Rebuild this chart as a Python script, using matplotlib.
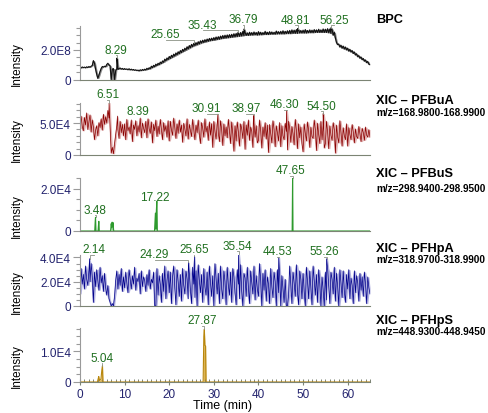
import numpy as np
import pandas as pd
import matplotlib
matplotlib.use("Agg")
import matplotlib.pyplot as plt
from matplotlib.ticker import MultipleLocator, FixedLocator, FixedFormatter

plt.rcParams["font.family"] = ["Liberation Sans", "DejaVu Sans"]

STEP = 0.25  # min between samples of the dense traces

# BPC, intensity in 1e6, one row = 5 min
bpc = [
    82, 78, 85, 80, 84, 79, 86, 81, 88, 83, 90, 95, 128, 110, 70, 35, 8, 30, 55, 75,
    88, 84, 90, 86, 102, 110, 98, 92, 0, 70, 74, 0, 60, 72, 68, 74, 78, 70, 75, 68,
    74, 68, 72, 66, 73, 65, 70, 64, 68, 62, 66, 60, 64, 58, 66, 60, 68, 62, 70, 64,
    76, 68, 80, 72, 90, 80, 96, 86, 104, 94, 110, 100, 118, 108, 126, 116, 138, 126, 146, 134,
    156, 142, 164, 150, 172, 158, 180, 166, 188, 174, 196, 182, 204, 190, 212, 198, 222, 206, 230, 214,
    238, 222, 244, 228, 250, 234, 256, 240, 262, 246, 266, 250, 270, 254, 274, 258, 278, 262, 280, 264,
    284, 266, 288, 270, 290, 272, 294, 276, 298, 278, 300, 280, 302, 282, 304, 284, 306, 286, 310, 288,
    312, 290, 314, 292, 318, 294, 326, 296, 318, 298, 316, 298, 320, 300, 318, 300, 322, 302, 318, 300,
    324, 302, 320, 302, 318, 304, 326, 304, 320, 304, 324, 306, 322, 306, 320, 306, 328, 308, 324, 308,
    326, 308, 330, 308, 326, 310, 330, 310, 332, 310, 336, 312, 334, 312, 338, 312, 336, 314, 332, 314,
    334, 314, 338, 314, 332, 316, 336, 316, 334, 316, 338, 318, 336, 318, 340, 318, 336, 318, 342, 318,
    340, 318, 344, 316, 342, 312, 338, 300, 320, 280, 250, 236, 240, 220, 232, 212, 226, 206, 220, 200,
    212, 192, 204, 186, 196, 176, 186, 166, 174, 154, 162, 144, 152, 134, 142, 124, 132, 114, 122, 104,
    100,
]

# XIC PFBuA, intensity in 1e3
pfbua = [
    42, 61, 45, 38, 59, 47, 66, 40, 52, 63, 36, 55, 44, 24, 39, 46, 30, 51, 43, 57,
    39, 64, 48, 60, 50, 70, 58, 45, 3, 12, 2, 18, 32, 46, 40, 26, 53, 35, 48, 30,
    49, 24, 56, 38, 44, 33, 55, 21, 47, 40, 54, 30, 46, 36, 58, 27, 50, 42, 35, 53,
    27, 57, 41, 34, 52, 19, 48, 38, 55, 29, 45, 33, 56, 40, 24, 51, 37, 46, 28, 54,
    22, 53, 39, 31, 58, 43, 26, 49, 34, 55, 36, 47, 20, 50, 41, 30, 57, 25, 48, 38,
    29, 56, 40, 24, 47, 35, 55, 32, 18, 51, 42, 28, 57, 36, 45, 23, 52, 31, 49, 12,
    53, 37, 25, 48, 34, 21, 54, 40, 15, 49, 30, 44, 27, 56, 38, 18, 52, 33, 6, 46,
    22, 52, 36, 14, 49, 41, 26, 53, 9, 47, 31, 55, 23, 44, 37, 12, 50, 28, 46, 19,
    23, 55, 38, 11, 44, 29, 51, 25, 47, 4, 48, 33, 19, 54, 40, 13, 46, 35, 22, 51,
    13, 46, 30, 24, 50, 37, 8, 53, 42, 20, 45, 33, 16, 56, 39, 10, 49, 27, 44, 18,
    5, 49, 34, 22, 52, 38, 12, 44, 29, 26, 55, 40, 7, 50, 32, 18, 53, 24, 46, 11,
    18, 53, 36, 10, 46, 31, 23, 51, 40, 3, 47, 28, 19, 54, 35, 14, 43, 30, 24, 49,
    14, 43, 32, 24, 48, 36, 19, 41, 29, 26, 45, 33, 21, 42, 35, 23, 44, 31, 28, 40,
    28,
]

# XIC PFHpA, intensity in 1e3
pfhpa = [
    10, 31, 18, 26, 14, 33, 22, 17, 29, 20, 35, 24, 3, 28, 16, 30, 21, 13, 32, 19,
    25, 12, 27, 15, 9, 17, 6, 3, 0, 2, 0, 8, 21, 29, 14, 26, 17, 31, 12, 24,
    15, 28, 19, 11, 30, 22, 14, 25, 18, 32, 13, 23, 20, 27, 10, 29, 16, 24, 21, 12,
    26, 17, 30, 14, 22, 19, 28, 0, 0, 31, 9, 25, 18, 3, 27, 12, 33, 6, 21, 29,
    11, 28, 2, 24, 33, 15, 1, 30, 20, 8, 26, 4, 31, 17, 10, 29, 22, 6, 27, 13,
    2, 32, 18, 7, 29, 0, 34, 21, 11, 26, 3, 31, 16, 9, 28, 1, 33, 19, 8, 25,
    0, 35, 22, 10, 27, 2, 33, 14, 6, 29, 20, 1, 32, 17, 9, 28, 3, 31, 24, 11,
    1, 30, 18, 6, 34, 12, 0, 27, 23, 8, 32, 15, 2, 29, 19, 10, 33, 5, 25, 14,
    8, 35, 21, 0, 27, 13, 30, 4, 24, 18, 2, 31, 16, 7, 28, 20, 0, 30, 11, 26,
    0, 25, 14, 3, 22, 0, 0, 9, 33, 17, 2, 28, 19, 8, 34, 11, 1, 29, 22, 6,
    27, 12, 0, 32, 20, 6, 29, 15, 1, 33, 21, 9, 26, 3, 30, 18, 0, 24, 13, 0,
    28, 5, 31, 17, 2, 28, 22, 10, 32, 4, 27, 16, 0, 30, 19, 7, 29, 12, 3, 26,
    14, 30, 6, 23, 17, 2, 29, 11, 25, 19, 4, 27, 13, 24, 8, 28, 18, 2, 24, 15,
    10,
]

# sparse XICs: time (min), intensity in 1e4
pfbus_t = [0, 3.3, 3.42, 3.48, 3.56, 4.05, 4.15, 4.22, 4.3, 6.85, 7.0, 7.1, 7.2, 7.3,
           7.4, 7.55, 16.7, 16.9, 17.0, 17.1, 17.22, 17.32, 47.55, 47.65, 47.72, 65]
pfbus_v = [0, 0, 0.5, 0.65, 0, 0, 0.3, 0.46, 0, 0, 0.35, 0.15, 0.42, 0.2,
           0.4, 0, 0, 0.85, 0.1, 0.9, 1.42, 0, 0, 2.52, 0, 0]
pfhps_t = [0, 3.9, 4.1, 4.2, 4.35, 4.7, 4.9, 5.04, 5.15, 27.6, 27.75, 27.87, 28.0,
           28.15, 28.25, 65]
pfhps_v = [0, 0, 0.12, 0.18, 0.05, 0.1, 0.4, 0.53, 0, 0, 1.5, 1.73, 1.2,
           1.18, 0, 0]

# labelled apexes of the dense traces (same units as the traces)
bpc_apex_t = [8.29, 25.65, 35.43, 36.79, 48.81, 56.25]
bpc_apex_h = [145, 245, 320, 342, 345, 350]
pfbua_apex_t = [6.51, 8.39, 30.91, 38.97, 46.30, 54.50]
pfbua_apex_h = [82, 61, 64, 62, 70, 65]
pfhpa_apex_t = [2.14, 24.29, 25.65, 35.54, 44.53, 55.26]
pfhpa_apex_h = [39, 36, 41, 43, 40, 39]
# labelled apexes of the sparse traces
pfbus_apex_t = [3.48, 17.22, 47.65]
pfhps_apex_t = [5.04, 27.87]

W, H = 489, 414
LEFT, RIGHT = 80, 370
NAVY = "#23236e"
GREEN = "#1f6f1f"
SPINE = "#9a9a9a"


def dense(vals, apex_t, apex_h):
    t = np.arange(len(vals)) * STEP
    s = pd.Series(np.r_[vals, apex_h], index=np.r_[t, apex_t]).sort_index(kind="stable")
    return s.index.values, s.values.astype(float)


def draw_dense(ax, t, v, light, dark, lw):
    s = pd.Series(v)
    # pale envelope of the noise with the trace itself drawn over it
    up = s.rolling(3, center=True, min_periods=1).max()
    dn = s.rolling(3, center=True, min_periods=1).min()
    ax.fill_between(t, dn, up, color=light, lw=0)
    ax.plot(t, v, color=dark, lw=lw)


panels = [
    dict(title="BPC", sub=None, box=(27, 80.5), ty=20, sy=None, scale=1e8, top=3.62,
         major=[0, 2], fmt=["0", "2.0E8"], minor=0.5,
         text=[(8.05, 2.0), (19.2, 3.07), (27.5, 3.7), (36.5, 4.07), (48.3, 4.03), (56.9, 4.03)]),
    dict(title="XIC – PFBuA", sub="m/z=168.9800-168.9900", box=(104, 156), ty=100.7, sy=112.7,
         scale=1e4, top=8.15, major=[0, 5], fmt=["0", "5.0E4"], minor=1,
         text=[(6.15, 9.53), (13.0, 6.92), (28.4, 7.3), (37.3, 7.3), (45.8, 7.97), (54.1, 7.7)]),
    dict(title="XIC – PFBuS", sub="m/z=298.9400-298.9500", box=(179, 232), ty=174.3, sy=189,
         scale=1e4, top=2.52, major=[0, 2], fmt=["0", "2.0E4"], minor=0.5,
         text=[(3.36, 1.01), (16.8, 1.63), (47.1, 2.9)]),
    dict(title="XIC – PFHpA", sub="m/z=318.9700-318.9900", box=(256, 307), ty=249, sy=260,
         scale=1e4, top=4.2, major=[0, 2, 4], fmt=["0", "2.0E4", "4.0E4"], minor=0.5,
         text=[(3.09, 4.69), (16.7, 4.28), (25.5, 4.69), (35.2, 4.96), (44.2, 4.5), (54.7, 4.5)]),
    dict(title="XIC – PFHpS", sub="m/z=448.9300-448.9450", box=(329, 383), ty=321, sy=331.7,
         scale=1e4, top=1.77, major=[0, 1], fmt=["0", "1.0E4"], minor=0.25,
         text=[(4.85, 0.79), (27.4, 2.03)]),
]

fig = plt.figure(figsize=(W / 100, H / 100), dpi=100)
axes = []
for p in panels:
    top, bot = p["box"]
    ax = fig.add_axes([LEFT / W, 1 - bot / H, (RIGHT - LEFT) / W, (bot - top) / H])
    ax.set_xlim(0, 65)
    ax.set_ylim(0, p["top"] * p["scale"])
    for side in ("top", "right"):
        ax.spines[side].set_visible(False)
    ax.spines["left"].set_color(SPINE)
    ax.spines["bottom"].set_color("#7c8474")
    ax.yaxis.set_major_locator(FixedLocator([v * p["scale"] for v in p["major"]]))
    ax.yaxis.set_major_formatter(FixedFormatter(p["fmt"]))
    ax.yaxis.set_minor_locator(MultipleLocator(p["minor"] * p["scale"]))
    ax.tick_params(axis="y", which="major", length=5, width=0.8, color=SPINE,
                   labelcolor=NAVY, labelsize=8.5, pad=1.5)
    ax.tick_params(axis="y", which="minor", length=3, width=0.8, color=SPINE)
    ax.tick_params(axis="x", which="both", bottom=False, labelbottom=False)
    fig.text(376 / W, 1 - p["ty"] / H, p["title"], ha="left", va="center",
             fontsize=9.2, fontweight="bold")
    if p["sub"]:
        fig.text(376 / W, 1 - p["sy"] / H, p["sub"], ha="left", va="center",
                 fontsize=7.2, fontweight="bold")
    fig.text(17 / W, 1 - ((top + bot) / 2 + 10.5) / H, "Intensity", rotation=90,
             ha="center", va="center", fontsize=8.5)
    axes.append(ax)

# dense traces
t, v = dense(bpc, bpc_apex_t, bpc_apex_h)
draw_dense(axes[0], t, v * 1e6, "#8c8c8c", "#101010", 0.8)
bpc_peak = np.array(bpc_apex_h) * 1e6
t, v = dense(pfbua, pfbua_apex_t, pfbua_apex_h)
draw_dense(axes[1], t, v * 1e3, "#e2b4b4", "#8b0000", 0.5)
pfbua_peak = np.array(pfbua_apex_h) * 1e3
t, v = dense(pfhpa, pfhpa_apex_t, pfhpa_apex_h)
draw_dense(axes[3], t, v * 1e3, "#b2b2e0", "#00008b", 0.5)
pfhpa_peak = np.array(pfhpa_apex_h) * 1e3

# sparse traces
t, v = np.array(pfbus_t), np.array(pfbus_v) * 1e4
axes[2].fill_between(t, v, color="#8fcf8f", lw=0)
axes[2].plot(t, v, color="#2e9a2e", lw=0.8)
pfbus_peak = np.interp(pfbus_apex_t, t, v)
t, v = np.array(pfhps_t), np.array(pfhps_v) * 1e4
axes[4].fill_between(t, v, color="#dcb455", lw=0)
axes[4].plot(t, v, color="#b8860b", lw=0.8)
pfhps_peak = np.interp(pfhps_apex_t, t, v)

apexes = [
    (bpc_apex_t, bpc_peak),
    (pfbua_apex_t, pfbua_peak),
    (pfbus_apex_t, pfbus_peak),
    (pfhpa_apex_t, pfhpa_peak),
    (pfhps_apex_t, pfhps_peak),
]

for ax, p, (at, ah) in zip(axes, panels, apexes):
    sc = p["scale"]
    for (tx, ty), pt, ph in zip(p["text"], at, ah):
        ax.text(tx, ty * sc, f"{pt:.2f}", ha="center", va="center", color=GREEN,
                fontsize=8.5, clip_on=False)
        # leader from under the label to the apex
        xd, yd = ax.transData.transform((tx, ty * sc))
        ly = ax.transData.inverted().transform((xd, yd - 5.5))[1]
        if ly > ph:
            ax.plot([tx, pt, pt], [ly, ly, ph], color="#8a9284", lw=0.6,
                    clip_on=False)

# time axis on the bottom panel
ax = axes[-1]
ax.xaxis.set_major_locator(MultipleLocator(10))
ax.xaxis.set_minor_locator(MultipleLocator(1))
ax.tick_params(axis="x", which="major", bottom=True, labelbottom=True, direction="inout",
               length=5, width=0.8, color="#7c8474", labelcolor=NAVY, labelsize=8.5, pad=2)
ax.tick_params(axis="x", which="minor", bottom=True, direction="in", length=2.5,
               width=0.7, color="#7c8474")
fig.text(223 / W, 1 - 406.5 / H, "Time (min)", ha="center", va="center", fontsize=9)

fig.savefig("out.png", dpi=100)
